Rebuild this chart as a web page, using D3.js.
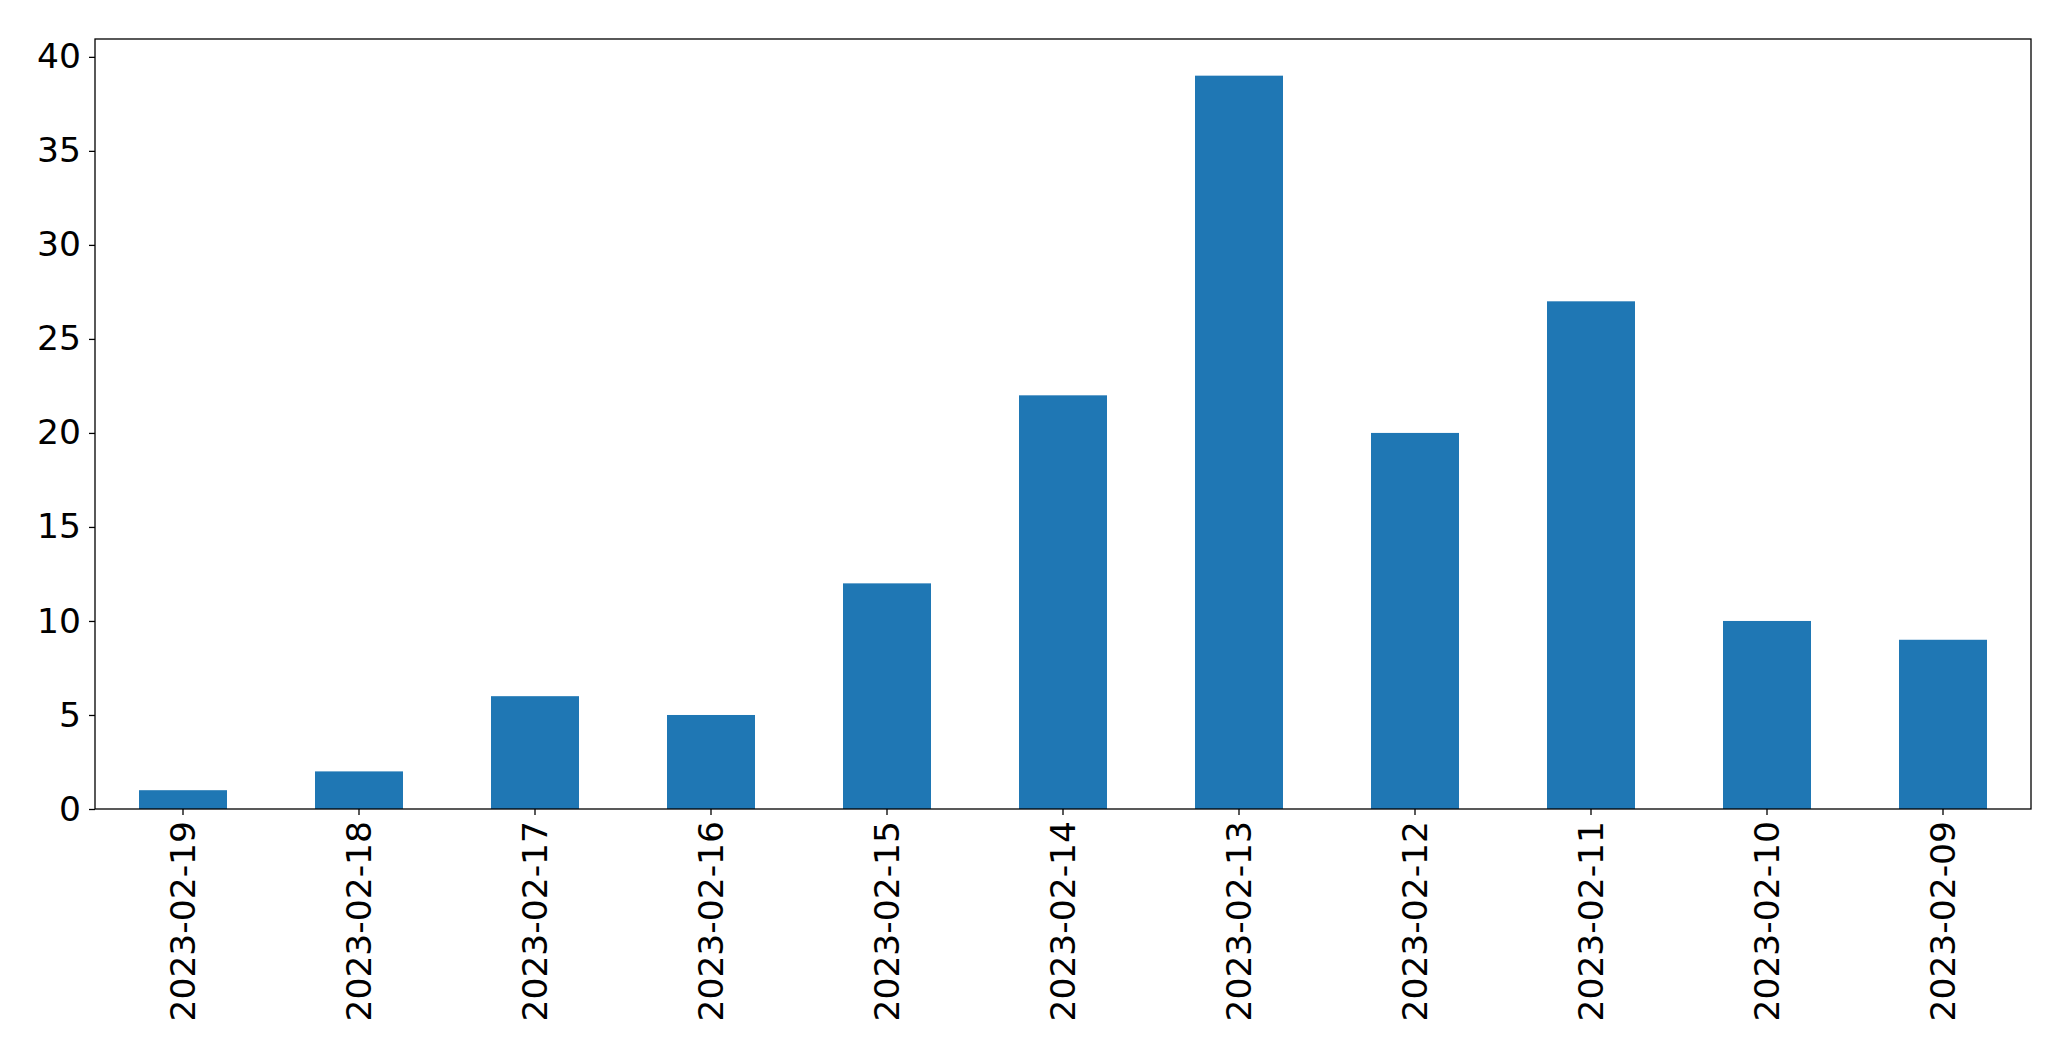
<!DOCTYPE html>
<html><head><meta charset="utf-8">
<script src="https://cdn.jsdelivr.net/npm/d3@7"></script>
<style>body{margin:0;background:#fff}svg{display:block}</style>
</head><body>
<script>
const categories = ["2023-02-19","2023-02-18","2023-02-17","2023-02-16","2023-02-15","2023-02-14","2023-02-13","2023-02-12","2023-02-11","2023-02-10","2023-02-09"];
const values = [1,2,6,5,12,22,39,20,27,10,9];
const yTicks = [0,5,10,15,20,25,30,35,40];

const W=2071,H=1061;
const m={l:95,r:40,t:39,b:252};
const svg=d3.select("body").append("svg").attr("width",W).attr("height",H);
const iw=W-m.l-m.r, ih=H-m.t-m.b;
const g=svg.append("g").attr("transform",`translate(${m.l},${m.t})`);
const x=d3.scaleBand().domain(categories).range([0,iw]).paddingInner(0.5).paddingOuter(0.25);
const y=d3.scaleLinear().domain([0,40.95]).range([ih,0]);

g.selectAll("rect.bar").data(values).join("rect").attr("class","bar")
 .attr("x",(d,i)=>x(categories[i])).attr("width",x.bandwidth())
 .attr("y",d=>y(d)).attr("height",d=>ih-y(d)).attr("fill","#1f77b4");

const font="DejaVu Sans";
const ya=g.append("g").call(d3.axisLeft(y).tickValues(yTicks).tickSize(6).tickPadding(8));
ya.select(".domain").remove();
ya.selectAll("line").attr("stroke","#000").attr("stroke-width",1.3);
ya.selectAll("text").attr("font-family",font).attr("font-size",34.5).attr("fill","#000");

const xa=g.append("g").attr("transform",`translate(0,${ih})`).call(d3.axisBottom(x).tickSize(6).tickPadding(8));
xa.select(".domain").remove();
xa.selectAll("line").attr("stroke","#000").attr("stroke-width",1.3);
xa.selectAll("text").attr("font-family",font).attr("font-size",34.5).attr("fill","#000")
 .attr("transform","rotate(-90)").attr("text-anchor","end").attr("dy","0.35em").attr("x",-12).attr("y",0);

g.append("rect").attr("x",0).attr("y",0).attr("width",iw).attr("height",ih)
 .attr("fill","none").attr("stroke","#000").attr("stroke-width",1.3);
</script>
</body></html>
